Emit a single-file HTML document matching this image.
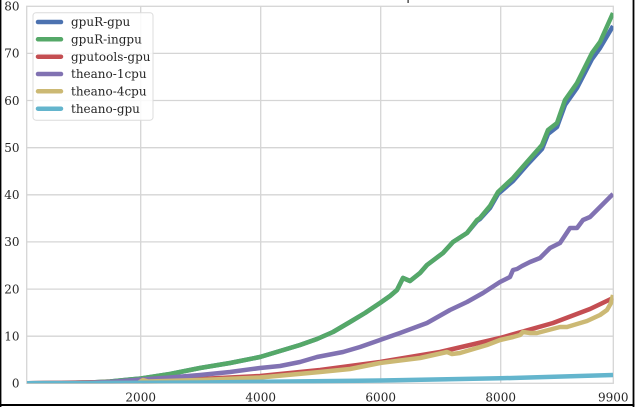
<!DOCTYPE html>
<html>
<head>
<meta charset="utf-8">
<style>
html,body{margin:0;padding:0;background:#fff;}
body{width:635px;height:407px;overflow:hidden;}
svg{display:block;}
text{font-family:"DejaVu Serif","Liberation Serif",serif;fill:#262626;}
</style>
</head>
<body>
<svg width="635" height="407" viewBox="0 0 635 407" xmlns="http://www.w3.org/2000/svg">
<defs>
<clipPath id="ax"><rect x="26.7" y="6.3" width="586.6" height="377"/></clipPath>
</defs>
<rect x="0" y="0" width="635" height="407" fill="#fff"/>
<!-- title fragment -->
<rect x="407.5" y="0" width="1.2" height="3" fill="#262626"/>
<!-- grid -->
<g stroke="#d5d5d5" stroke-width="1.3" fill="none">
<line x1="26.7" y1="336.2" x2="613.3" y2="336.2"/>
<line x1="26.7" y1="289.1" x2="613.3" y2="289.1"/>
<line x1="26.7" y1="241.9" x2="613.3" y2="241.9"/>
<line x1="26.7" y1="194.8" x2="613.3" y2="194.8"/>
<line x1="26.7" y1="147.7" x2="613.3" y2="147.7"/>
<line x1="26.7" y1="100.5" x2="613.3" y2="100.5"/>
<line x1="26.7" y1="53.4" x2="613.3" y2="53.4"/>
<line x1="140.7" y1="6.3" x2="140.7" y2="383.3"/>
<line x1="260.7" y1="6.3" x2="260.7" y2="383.3"/>
<line x1="380.7" y1="6.3" x2="380.7" y2="383.3"/>
<line x1="500.7" y1="6.3" x2="500.7" y2="383.3"/>
<rect x="26.7" y="6.3" width="586.6" height="377"/>
</g>
<!-- series -->
<g clip-path="url(#ax)" fill="none" stroke-width="4.5" stroke-linejoin="round" stroke-linecap="butt">
<polyline stroke="#4C72B0" points="27,383.3 60,383 90,382.5 110,381.5 125,380 141,378.5 170,374 200,368 230,363 260,357 280,351 300,345 317,339 333,332 350,322 365,313 380,303 390,296 397,290 403,278 410,281 420,273 427,265 435,259 443,253 453,242 467,233 477,221 480,219 490,208 498,194 513,181 527,165 542,149 548,134 557,127 565,105 577,88 592,59 600,48 613,26"/>
<polyline stroke="#55A868" points="27,383.3 60,383 90,382.5 110,381.5 125,380 141,378.5 170,374 200,368 230,363 260,357 280,351 300,345 317,339 333,332 350,322 365,313 380,303 390,296 397,290 403,278 410,281 420,273 427,265 435,259 443,253 453,242 467,233 477,220 480,218 490,206 498,192 513,178 527,162 542,145 548,130 557,123 565,100 577,83 592,53 600,42 613,13"/>
<polyline stroke="#C44E52" points="27,383.3 141,381.5 200,379 260,376 320,370 380,362 440,352 500,338 553,323 590,309 613,298"/>
<polyline stroke="#8172B2" points="27,383.3 80,383 110,382 141,379.5 170,377.5 200,375 230,372 260,368 280,366 300,362 317,357 343,352 360,347 380,340 400,333 427,323 450,310 467,302 483,293 500,282 510,277 513,270 517,269 522,266 530,262 540,258 550,248 560,243 570,228 577,228 583,220 590,217 600,207 613,194"/>
<polyline stroke="#CCB974" points="27,383.3 138,383 143,380 148,381.5 200,380 260,377.5 320,372 350,369 380,363 420,358 447,352 452,354 460,353 487,345 500,340 513,337 520,335 523,332 530,333 537,333 560,327 567,327 587,321 600,315 607,310 611,303 613,295"/>
<polyline stroke="#64B5CD" points="27,383.3 200,382.5 380,380.5 500,378.3 613,375"/>
</g>
<!-- legend -->
<rect x="33" y="12.7" width="120" height="107.5" rx="3" ry="3" fill="#fff" fill-opacity="0.85" stroke="#dcdcdc" stroke-width="1"/>
<g stroke-width="4.5" stroke-linecap="round">
<line x1="38" y1="22" x2="61" y2="22" stroke="#4C72B0"/>
<line x1="38" y1="39.3" x2="61" y2="39.3" stroke="#55A868"/>
<line x1="38" y1="56.7" x2="61" y2="56.7" stroke="#C44E52"/>
<line x1="38" y1="74" x2="61" y2="74" stroke="#8172B2"/>
<line x1="38" y1="91.3" x2="61" y2="91.3" stroke="#CCB974"/>
<line x1="38" y1="108.7" x2="61" y2="108.7" stroke="#64B5CD"/>
</g>
<g font-size="12">
<text x="71" y="26.2">gpuR-gpu</text>
<text x="71" y="43.5">gpuR-ingpu</text>
<text x="71" y="60.9">gputools-gpu</text>
<text x="71" y="78.2">theano-1cpu</text>
<text x="71" y="95.5">theano-4cpu</text>
<text x="71" y="112.9">theano-gpu</text>
</g>
<!-- y tick labels -->
<g font-size="12" text-anchor="end">
<text x="19.5" y="387.6">0</text>
<text x="19.5" y="340.5">10</text>
<text x="19.5" y="293.4">20</text>
<text x="19.5" y="246.2">30</text>
<text x="19.5" y="199.1">40</text>
<text x="19.5" y="152">50</text>
<text x="19.5" y="104.8">60</text>
<text x="19.5" y="57.7">70</text>
<text x="19.5" y="10.6">80</text>
</g>
<!-- x tick labels -->
<g font-size="12" text-anchor="middle">
<text x="140.7" y="401.5">2000</text>
<text x="260.7" y="401.5">4000</text>
<text x="380.7" y="401.5">6000</text>
<text x="500.7" y="401.5">8000</text>
<text x="613.3" y="401.5">9900</text>
</g>
<!-- black frame -->
<rect x="0" y="0" width="1.4" height="407" fill="#000"/>
<rect x="632.6" y="0" width="1.8" height="407" fill="#000"/>
<rect x="0" y="404" width="634.4" height="2" fill="#000"/>
</svg>
</body>
</html>
